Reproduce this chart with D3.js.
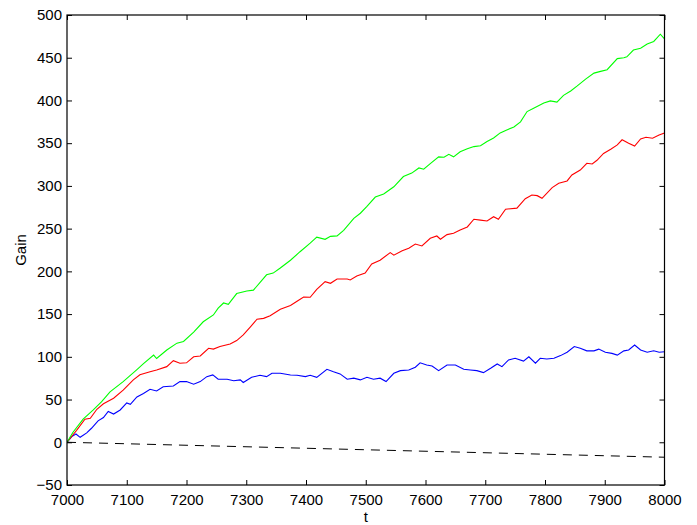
<!DOCTYPE html>
<html>
<head>
<meta charset="utf-8">
<script src="https://cdn.jsdelivr.net/npm/d3@7"></script>
<style>
  body { margin: 0; background: #fff; }
  svg { display: block; font-family: "Liberation Sans", Arial, sans-serif; }
</style>
</head>
<body>
<svg id="chart"></svg>
<script>
// [t, gain] pairs
const greenSeries = [[7000,0],[7010,11.7],[7027,27],[7044,38],[7058,47.5],[7072,59],[7094,71],[7117,85],[7128,92],[7145,102],[7150,98],[7167,108],[7184,116],[7195,118],[7212,129],[7228,141],[7245,149],[7253,157],[7262,163],[7270,161.5],[7284,174],[7301,177],[7312,178],[7334,196],[7345,198],[7357,204],[7374,213],[7390,223],[7407,233],[7418,240],[7432,237.5],[7441,241],[7452,241.5],[7463,248],[7480,262],[7491,268],[7502,276],[7516,287],[7530,290.5],[7547,299],[7563,311],[7577,315],[7589,321],[7597,319.5],[7608,326],[7622,334],[7631,333.5],[7639,337],[7647,334],[7658,340],[7670,343.5],[7681,346],[7692,347],[7703,352],[7714,356],[7725,362],[7736,365.5],[7748,369],[7759,375],[7770,387],[7781,391],[7798,397],[7809,399.5],[7820,398],[7831,406],[7843,411],[7854,417],[7868,425],[7882,432],[7893,434],[7904,436],[7921,449],[7932,450],[7937,451],[7948,459],[7960,461],[7971,466],[7982,469],[7993,477.5],[8000,472]];

const redSeries = [[7000,0],[7016,14],[7030,27],[7039,28],[7050,38.6],[7061,45],[7078,51.5],[7094,61],[7111,73],[7122,79],[7139,82.6],[7150,84.6],[7167,88.5],[7178,95.5],[7189,92.5],[7200,93],[7212,100],[7223,101],[7237,110],[7245,109],[7256,112],[7273,115],[7284,119],[7295,125.6],[7307,135],[7318,144],[7329,145],[7340,148],[7357,155.6],[7374,160],[7385,165],[7396,170],[7407,169.7],[7418,179],[7432,188],[7441,186],[7452,191],[7469,191],[7474,190],[7485,194.6],[7499,198],[7510,208.6],[7524,213],[7541,222],[7547,219],[7561,224],[7572,227],[7583,232],[7594,229.7],[7608,238.7],[7619,241.4],[7625,237.6],[7636,243],[7647,244.6],[7658,248.4],[7670,252],[7681,261],[7692,260],[7703,259],[7714,264],[7722,261],[7734,272.7],[7753,274],[7767,285],[7778,289.4],[7787,288.6],[7795,285.5],[7812,298],[7823,303],[7837,305.8],[7845,312.8],[7859,318.6],[7870,326.5],[7879,325.7],[7887,330],[7898,338],[7910,343],[7921,348],[7929,354],[7940,350],[7950,346.7],[7960,355],[7969,357],[7980,355.8],[7991,359.6],[8000,362]];

const blueSeries = [[7000,0],[7008,6.6],[7015,9.7],[7022,5.8],[7033,11],[7041,16.4],[7052,25],[7061,29],[7069,36],[7078,33],[7089,37.8],[7100,46],[7106,44.5],[7117,53],[7128,57],[7139,62],[7150,60],[7161,65],[7178,65.9],[7189,71],[7200,71],[7212,68],[7223,71],[7234,76.8],[7244,78.8],[7253,73.7],[7268,73.7],[7279,72],[7290,73],[7295,70],[7309,76],[7323,78.4],[7334,76.8],[7343,80.7],[7357,80.7],[7374,78.8],[7385,78.4],[7399,76.8],[7407,78.4],[7418,76],[7435,85.4],[7446,82.6],[7457,80],[7469,73.7],[7480,75],[7491,73],[7502,76],[7513,73.7],[7524,75],[7534,71],[7547,80.7],[7558,83.8],[7572,84.6],[7583,87.8],[7591,93],[7602,90.5],[7611,89.3],[7622,83.8],[7636,90.5],[7650,90.5],[7664,85.4],[7675,84.6],[7686,83.8],[7697,81.5],[7709,86.6],[7720,91.6],[7728,88.5],[7739,96.3],[7750,98.3],[7764,95],[7773,100],[7784,92.5],[7792,98.3],[7803,97.5],[7815,98.3],[7826,101.4],[7837,105.3],[7849,112],[7859,110],[7870,107],[7882,107],[7890,109],[7901,105.3],[7912,104],[7921,102],[7932,107],[7940,108],[7950,113.8],[7960,108],[7971,105.3],[7982,107],[7991,105.3],[8000,106]];

const baselineSeries = [[7000,0],[8000,-17.5]];

const xTicks = [7000,7100,7200,7300,7400,7500,7600,7700,7800,7900,8000];
const yTicks = [-50,0,50,100,150,200,250,300,350,400,450,500];

const width = 697, height = 525;
const margin = {top: 15, right: 32.5, bottom: 40, left: 67};

const svg = d3.select("#chart")
    .attr("width", width)
    .attr("height", height);

const x = d3.scaleLinear()
    .domain([7000, 8000])
    .range([margin.left, width - margin.right]);

const y = d3.scaleLinear()
    .domain([-50, 500])
    .range([height - margin.bottom, margin.top]);

const line = d3.line()
    .x(d => x(d[0]))
    .y(d => y(d[1]));

// lines, clipped to the axes box
svg.append("clipPath").attr("id", "clip")
    .append("rect")
    .attr("x", x(7000)).attr("y", y(500))
    .attr("width", x(8000) - x(7000))
    .attr("height", y(-50) - y(500));

const plot = svg.append("g").attr("clip-path", "url(#clip)");

const series = [
    {data: blueSeries, color: "#0000ff"},
    {data: redSeries, color: "#ff0000"},
    {data: greenSeries, color: "#00ff00"}
];

series.forEach(s => {
    plot.append("path")
        .datum(s.data)
        .attr("fill", "none")
        .attr("stroke", s.color)
        .attr("stroke-width", 1.1)
        .attr("d", line);
});

plot.append("path")
    .datum(baselineSeries)
    .attr("fill", "none")
    .attr("stroke", "#000")
    .attr("stroke-width", 1)
    .attr("stroke-dasharray", "9,7")
    .attr("d", line);

// axes with inward ticks on all four sides
const fmt = d3.format("d");

const styleAxis = g => {
    g.select(".domain").remove();
    g.selectAll(".tick line").attr("stroke", "#000");
    g.selectAll(".tick text")
        .attr("fill", "#000")
        .attr("font-size", 15)
        .attr("font-family", "\"Liberation Sans\", Arial, sans-serif");
};

svg.append("g")
    .attr("transform", `translate(0,${y(-50)})`)
    .call(d3.axisBottom(x).tickValues(xTicks).tickFormat(fmt)
        .tickSizeInner(-5).tickSizeOuter(0).tickPadding(9))
    .call(styleAxis);

svg.append("g")
    .attr("transform", `translate(${x(7000)},0)`)
    .call(d3.axisLeft(y).tickValues(yTicks).tickFormat(d => d < 0 ? "\u2212" + Math.abs(d) : fmt(d))
        .tickSizeInner(-5).tickSizeOuter(0).tickPadding(5))
    .call(styleAxis);

svg.append("g")
    .attr("transform", `translate(0,${y(500)})`)
    .call(d3.axisTop(x).tickValues(xTicks).tickFormat("")
        .tickSizeInner(-5).tickSizeOuter(0))
    .call(styleAxis);

svg.append("g")
    .attr("transform", `translate(${x(8000)},0)`)
    .call(d3.axisRight(y).tickValues(yTicks).tickFormat("")
        .tickSizeInner(-5).tickSizeOuter(0))
    .call(styleAxis);

svg.append("rect")
    .attr("x", x(7000)).attr("y", y(500))
    .attr("width", x(8000) - x(7000))
    .attr("height", y(-50) - y(500))
    .attr("fill", "none")
    .attr("stroke", "#000")
    .attr("stroke-width", 1.2);

// axis titles
svg.append("text")
    .attr("x", x(7500))
    .attr("y", 522)
    .attr("text-anchor", "middle")
    .attr("font-size", 15)
    .text("t");

svg.append("text")
    .attr("transform", `translate(26,${y(225)}) rotate(-90)`)
    .attr("text-anchor", "middle")
    .attr("font-size", 15)
    .text("Gain");
</script>
</body>
</html>
